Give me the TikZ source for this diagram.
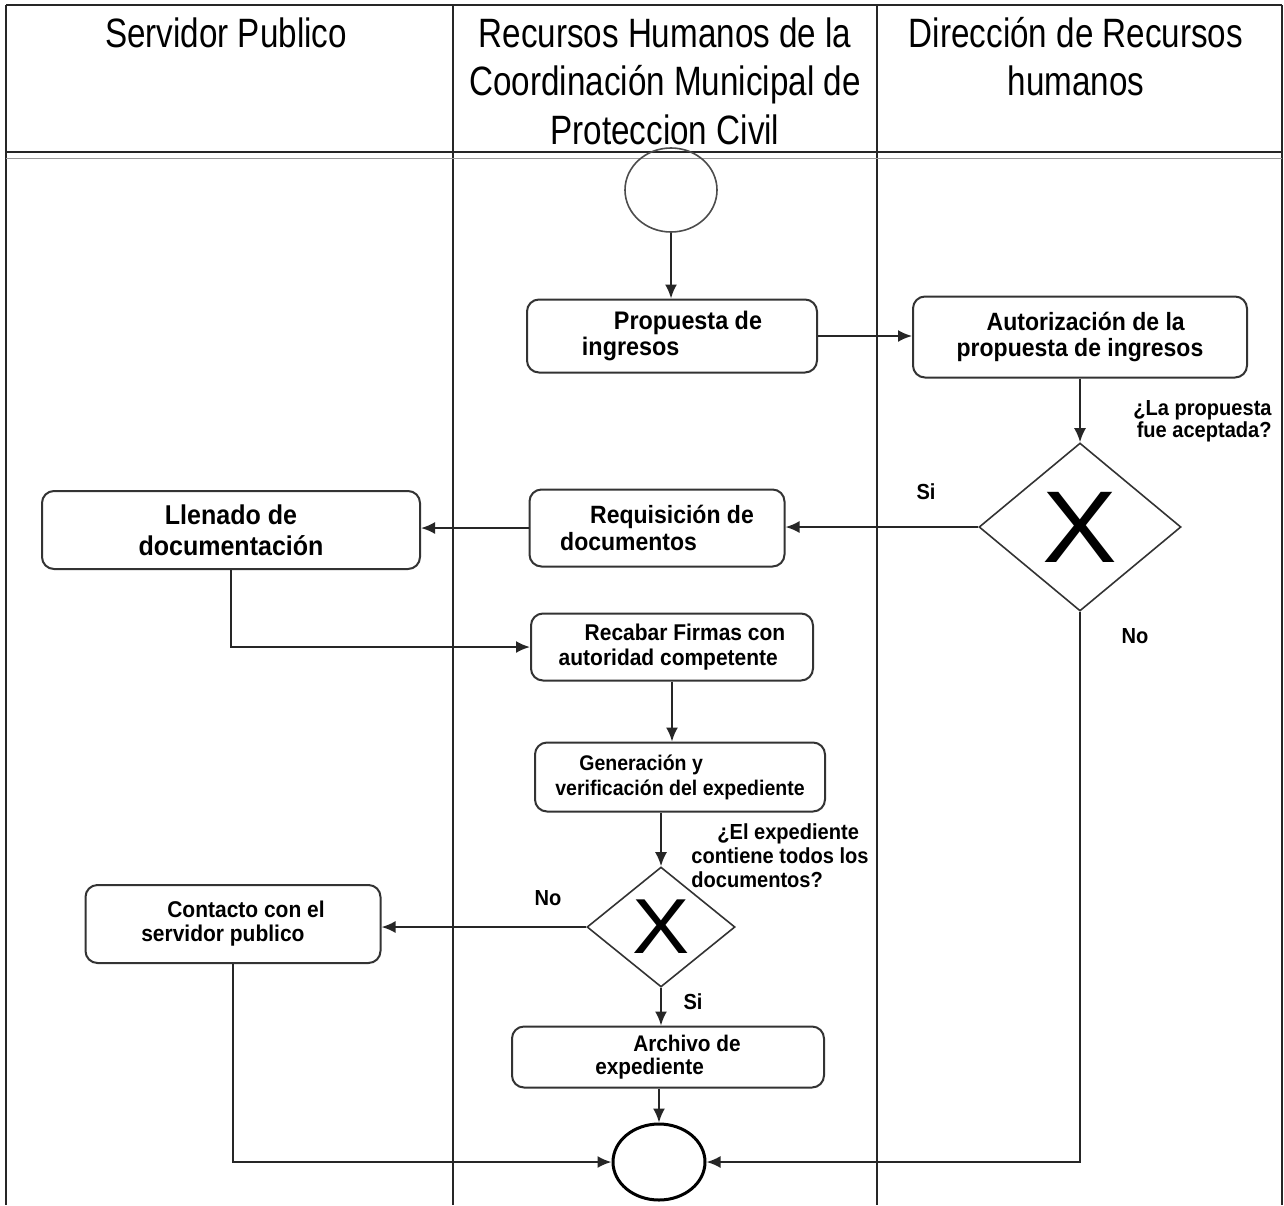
\documentclass[tikz,border=0pt]{standalone}
\usepackage{fontspec}
\setmainfont{Liberation Sans}
\newfontfamily\hdfont[FakeStretch=0.81]{Liberation Sans}
\newfontfamily\bxfont[FakeStretch=0.92]{Liberation Sans}
\newfontfamily\xxfont[FakeStretch=1.1]{Liberation Sans}
\usetikzlibrary{shapes.geometric,arrows.meta}
\begin{document}
\begin{tikzpicture}[x=0.5pt,y=-0.5pt,
  lane/.style={line width=1pt, draw=black!85},
  proc/.style 2 args={draw=black!80, line width=1pt, rounded corners=6pt, minimum width=#1*0.5pt, minimum height=#2*0.5pt, inner sep=0pt, align=left},
  txt/.style 2 args={font=\bxfont\fontsize{#1}{#2}\selectfont\bfseries},
  ev/.style 2 args={ellipse, minimum width=#1*0.5pt, minimum height=#2*0.5pt, inner sep=0pt},
  gate/.style 2 args={draw=black!80, line width=0.8pt, diamond, minimum width=#1*0.5pt, minimum height=#2*0.5pt, inner sep=0pt},
  bigx/.style={font=\xxfont\fontsize{#1}{#1}\selectfont, inner sep=0pt},
  flow/.style={line width=1pt, draw=black!85, -{Latex[length=7pt,width=6pt]}},
  head/.style={font=\hdfont\fontsize{20.5}{24.25}\selectfont, align=center, inner sep=0pt, anchor=north},
  lbl/.style={font=\bxfont\fontsize{10.9}{11}\selectfont\bfseries, inner sep=0pt}
]
\useasboundingbox (0,0) rectangle (1284,1205);
% lanes
\draw[lane] (6,5) -- (1282,5);
\draw[lane] (6,5) -- (6,1205);
\draw[lane] (453,5) -- (453,1205);
\draw[lane] (877,5) -- (877,1205);
\draw[lane] (1282,5) -- (1282,1205);
\draw[lane] (6,152) -- (1282,152);
\draw[black!40, line width=0.5pt] (6,158) -- (1282,158);
% headers
\node[head] (h1) at (226,15) {\rule{0pt}{16pt}Servidor Publico};
\node[head] (h2) at (665,15) {\rule{0pt}{16pt}Recursos Humanos de la\\Coordinación Municipal de\\Proteccion Civil};
\node[head] (h3) at (1076,15) {\rule{0pt}{16pt}Dirección de Recursos\\humanos};
% nodes
\node[ev={92}{84}, draw=black!70, line width=0.8pt] (start) at (671,190) {};
\node[proc={290}{73}, txt={12.7}{11.5}] (prop) at (672,336) {\hspace*{16pt}Propuesta de\\ingresos};
\node[proc={334}{81}, txt={12.5}{13}] (aut) at (1080,337) {\hspace*{15pt}Autorización de la\\propuesta de ingresos};
\node[gate={202}{168}] (d1) at (1080,527) {};
\node[bigx=51] (x1) at (d1) {X};
\node[proc={255}{77}, txt={12.5}{13.5}] (req) at (657,528) {\hspace*{15pt}Requisición de\\documentos};
\node[proc={378}{78}, txt={13.6}{15.5}, align=center] (llen) at (231,530) {Llenado de\\documentación};
\node[proc={282}{67}, txt={11.4}{12.5}] (rec) at (672,647) {\hspace*{13pt}Recabar Firmas con\\autoridad competente};
\node[proc={290}{69}, txt={10.6}{12.5}] (gen) at (680,777) {\hspace*{12pt}Generación y\\verificación del expediente};
\node[gate={148}{120}] (d2) at (661,927) {};
\node[bigx=39] (x2) at (d2) {X};
\node[proc={295}{78}, txt={11.4}{12}] (cont) at (233,924) {\hspace*{13pt}Contacto con el\\servidor publico};
\node[proc={312}{61}, txt={11.3}{11.5}] (arch) at (668,1057) {\hspace*{19pt}Archivo de\\expediente};
\node[ev={92}{76}, draw=black, line width=1.5pt] (end) at (659,1162) {};
% labels
\node[lbl, align=right, anchor=east] (q1) at (1272,421) {¿La propuesta\\fue aceptada?};
\node[lbl] (si1) at (926,492) {Si};
\node[lbl] (no1) at (1135,636) {No};
\node[lbl, font=\bxfont\fontsize{10.9}{12}\selectfont\bfseries, align=left, anchor=west] (q2) at (691,856) {\hspace*{13pt}¿El expediente\\contiene todos los\\documentos?};
\node[lbl] (no2) at (548,898) {No};
\node[lbl] (si2) at (693,1002) {Si};
% connectors
\draw[flow] (start.south) -- (start.south |- prop.north);
\draw[flow] (prop.east) -- (prop.east -| aut.west);
\draw[flow] (aut.south) -- (d1.north);
\draw[flow] (d1.west) -- (d1.west -| req.east);
\draw[flow] (req.west) -- (req.west -| llen.east);
\draw[flow] (llen.south) |- (rec.west);
\draw[flow] (rec.south) -- (rec.south |- gen.north);
\draw[flow] (d2.north |- gen.south) -- (d2.north);
\draw[flow] (d2.west) -- (d2.west -| cont.east);
\draw[flow] (d2.south) -- (d2.south |- arch.north);
\draw[flow] (end.north |- arch.south) -- (end.north);
\draw[flow] (cont.south) |- (end.west);
\draw[flow] (d1.south) |- (end.east);
\end{tikzpicture}
\end{document}
